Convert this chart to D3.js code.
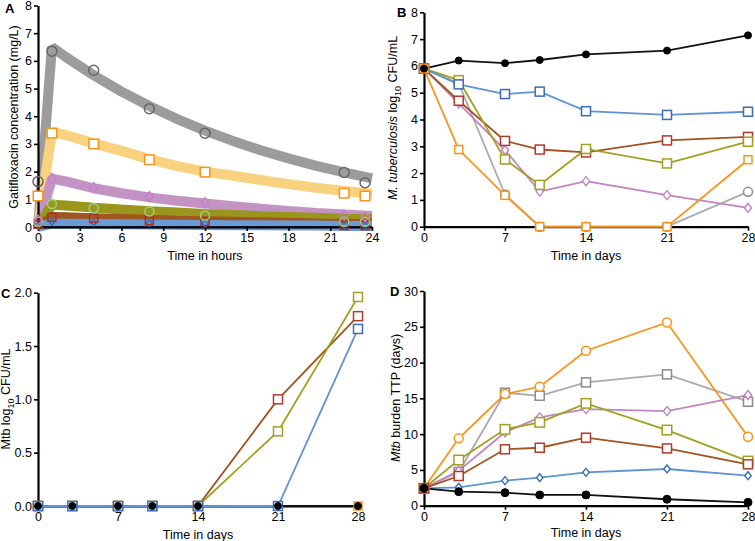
<!DOCTYPE html>
<html><head><meta charset="utf-8">
<script src="https://cdn.jsdelivr.net/npm/d3@7"></script>
<style>
body{margin:0;background:#fff;}
text{font-family:"Liberation Sans",Arial,Helvetica,sans-serif;}
</style>
</head><body>
<svg id="chart" width="755" height="541"></svg>
<script>
// ---------- DATA ----------
// Panel A: model bands (hours) and observed concentrations
const hourTicks = [0,3,6,9,12,15,18,21,24];
const bandHours = [0,1,2,4,6,8,10,12,14,16,18,20,22,24];
const bandGray   = [0,6.5,6.14,5.48,4.89,4.37,3.9,3.48,3.11,2.77,2.48,2.21,1.97,1.76];
const bandOrange = [0,3.45,3.32,3.02,2.75,2.45,2.2,2.0,1.85,1.7,1.55,1.42,1.3,1.2];
const bandPurple = [0,1.75,1.65,1.4,1.22,1.07,0.95,0.85,0.75,0.66,0.58,0.51,0.45,0.4];
const bandOlive  = [0,0.8,0.78,0.7,0.63,0.57,0.52,0.47,0.43,0.39,0.36,0.33,0.3,0.28];
const bandBrown  = [0,0.36,0.35,0.32,0.29,0.26,0.23,0.21,0.19,0.17,0.15,0.13,0.12,0.11];
const bandBlue   = [0,0.12,0.12,0.11,0.1,0.09,0.08,0.07,0.06,0.06,0.05,0.05,0.04,0.04];
const obsHours   = [0,1,4,8,12,22,23.5];
const obsGray    = [1.64,6.35,5.66,4.27,3.39,1.97,1.6];
const obsOrange  = [1.12,3.39,3.0,2.43,1.98,1.22,1.12];
const obsPurple  = [0.25,1.76,1.42,1.1,0.88,0.43,0.37];
const obsGreen   = [0.19,0.83,0.68,0.56,0.41,0.19,0.19];
const obsRed     = [0.1,0.35,0.31,0.23,0.19,0.05,0.05];
const obsBlue    = [0.05,0.19,0.16,0.14,0.12,0.05,0.05];

// Panels B, C, D: days
const days = [0,3,7,10,14,21,28];
const dayTicks = [0,7,14,21,28];
// B: M. tuberculosis log10 CFU/mL
const bBlack  = [5.9,6.2,6.1,6.22,6.43,6.57,7.14];
const bBlue   = [5.9,5.31,4.95,5.04,4.31,4.17,4.29];
const bBrown  = [5.9,4.7,3.2,2.88,2.77,3.22,3.35];
const bOlive  = [5.9,5.47,2.51,1.56,2.9,2.36,3.17];
const bPurple = [5.9,4.6,2.86,1.31,1.7,1.18,0.7];
const bGray   = [5.9,5.35,1.2,0,0,0,1.3];
const bOrange = [5.9,2.88,1.17,0,0,0,2.5];
// C: Mtb log10 CFU/mL (resistant)
const cBlack  = [0,0,0,0,0,0,0];
const cBlue   = [0,0,0,0,0,0,1.66];
const cBrown  = [0,0,0,0,0,1.0,1.78];
const cOlive  = [0,0,0,0,0,0.7,1.96];
const cOrange = [0,0,0,0,0,0,0];
// D: Mtb burden TTP (days)
const dBlack  = [2.43,1.96,1.82,1.5,1.5,0.9,0.47];
const dBlue   = [2.43,2.57,3.5,3.91,4.66,5.13,4.19];
const dBrown  = [2.43,4.15,7.88,8.1,9.5,8.0,5.78];
const dOlive  = [2.43,6.38,10.67,11.65,14.3,10.57,6.24];
const dPurple = [2.43,4.89,10.25,12.35,13.5,13.22,15.46];
const dGray   = [2.43,4.7,15.78,15.36,17.23,18.35,14.53];
const dOrange = [2.43,9.41,15.6,16.62,21.65,25.6,9.64];

// ---------- COLOURS ----------
const C = {
  black:"#111111",
  blueLine:"#5f93d3", blueMark:"#3b6cb7",
  brownLine:"#a0531f", brownMark:"#b23a2c",
  olive:"#a2a020",
  purple:"#c283c3",
  grayLine:"#ababab", grayMark:"#8a8a8a",
  orange:"#f7941d"
};

const svg = d3.select("#chart");

function drawAxes(g, x, y, xt, yt, yfmt){
  const xa = g.append("g").attr("transform",`translate(0,${y.range()[0]})`)
    .call(d3.axisBottom(x).tickValues(xt).tickSize(4).tickSizeOuter(0).tickPadding(2));
  const ya = g.append("g").attr("transform",`translate(${x.range()[0]},0)`)
    .call(d3.axisLeft(y).tickValues(yt).tickSize(4).tickSizeOuter(0).tickPadding(2).tickFormat(yfmt||d3.format("d")));
  [xa,ya].forEach(a=>{
    a.select(".domain").attr("stroke","#000").attr("stroke-width",2.2);
    a.selectAll(".tick line").attr("stroke","#000").attr("stroke-width",1.6);
    a.selectAll(".tick text").attr("font-size",12.5).attr("fill","#000")
      .style("font-family","'Liberation Sans',Arial,sans-serif");
  });
  return [xa,ya];
}

function marker(sel, type, cx, cy, stroke, size, fill){
  if(type==="circle"){
    sel.append("circle").attr("cx",cx).attr("cy",cy).attr("r",size/2)
      .attr("fill",fill||"none").attr("stroke",stroke).attr("stroke-width",1.5);
  } else if(type==="dot"){
    sel.append("circle").attr("cx",cx).attr("cy",cy).attr("r",size/2)
      .attr("fill",stroke).attr("stroke",stroke).attr("stroke-width",1);
  } else if(type==="square"){
    sel.append("rect").attr("x",cx-size/2).attr("y",cy-size/2).attr("width",size).attr("height",size)
      .attr("fill",fill||"#fff").attr("stroke",stroke).attr("stroke-width",1.5);
  } else if(type==="diamond"){
    const s=size/2;
    sel.append("path").attr("d",`M${cx},${cy-s}L${cx+s*0.8},${cy}L${cx},${cy+s}L${cx-s*0.8},${cy}Z`)
      .attr("fill",fill||"#fff").attr("stroke",stroke).attr("stroke-width",1.4);
  }
}

function series(g, x, y, xs, ys, lineColor){
  const line = d3.line().x((d,i)=>x(xs[i])).y(d=>y(d));
  g.append("path").datum(ys).attr("d",line).attr("fill","none")
    .attr("stroke",lineColor).attr("stroke-width",1.8);
}
function marks(g, x, y, xs, ys, markType, markColor, size, fill){
  ys.forEach((v,i)=>marker(g, markType, x(xs[i]), y(v), markColor, size, fill));
}

// ---------- PANEL A ----------
{
  const g = svg.append("g");
  const x = d3.scaleLinear().domain([0,24]).range([38,372]);
  const y = d3.scaleLinear().domain([0,8]).range([227,5.5]);
  const band = d3.line().x((d,i)=>x(bandHours[i])).y(d=>y(d)).curve(d3.curveLinear);
  const bands = [[bandGray,"#9c9c9c"],[bandOrange,"#f8d27e"],[bandPurple,"#c393c3"],
                 [bandOlive,"#9a961d"],[bandBrown,"#a0561e"],[bandBlue,"#6a9bd7"]];
  bands.forEach(([d,c])=>g.append("path").datum(d).attr("d",band).attr("fill","none")
     .attr("stroke",c).attr("stroke-width",10).attr("stroke-linejoin","bevel"));
  g.append("path").datum(bandHours.map(()=>0)).attr("d",band).attr("fill","none").attr("stroke","#000").attr("stroke-width",1.5);
  drawAxes(g,x,y,hourTicks,[0,1,2,3,4,5,6,7,8]);
  marks(g,x,y,obsHours,obsBlue,"diamond","#3a66b4",7,"none");
  marks(g,x,y,obsHours,obsRed,"square","#a8302a",8,"none");
  marks(g,x,y,obsHours,obsGreen,"circle","#93d47e",9,"none");
  marks(g,x,y,obsHours,obsPurple,"diamond","#c77fc7",10,"none");
  marks(g,x,y,obsHours,obsOrange,"square","#f7941d",9.5,"#fff");
  marks(g,x,y,obsHours,obsGray,"circle","#666",10,"none");
  g.append("text").attr("x",205).attr("y",260).attr("text-anchor","middle").attr("font-size",12.5).text("Time in hours");
  g.append("text").attr("transform","translate(18,117) rotate(-90)").attr("text-anchor","middle").attr("font-size",12.5)
    .text("Gatifloxacin concentration (mg/L)");
  g.append("text").attr("x",5).attr("y",13).attr("font-size",13).attr("font-weight","bold").text("A");
}

// ---------- PANEL B ----------
{
  const g = svg.append("g");
  const x = d3.scaleLinear().domain([0,28]).range([424,748]);
  const y = d3.scaleLinear().domain([0,8]).range([226.7,12.3]);
  drawAxes(g,x,y,dayTicks,[0,1,2,3,4,5,6,7,8]);
  series(g,x,y,days,bGray,C.grayLine);
  series(g,x,y,days,bPurple,C.purple);
  series(g,x,y,days,bBrown,C.brownLine);
  series(g,x,y,days,bOlive,C.olive);
  series(g,x,y,days,bBlue,C.blueLine);
  series(g,x,y,days,bOrange,C.orange);
  series(g,x,y,days,bBlack,C.black);
  marks(g,x,y,days,bGray,"circle",C.grayMark,9,"#fff");
  marks(g,x,y,days,bPurple,"diamond",C.purple,9);
  marks(g,x,y,days,bBrown,"square",C.brownMark,9);
  marks(g,x,y,days,bOlive,"square",C.olive,9);
  marks(g,x,y,days,bBlue,"square",C.blueMark,9);
  marks(g,x,y,days,bOrange,"square",C.orange,8);
  marks(g,x,y,days,bBlack,"dot","#000",7);
  g.append("text").attr("x",586).attr("y",260).attr("text-anchor","middle").attr("font-size",12.5).text("Time in days");
  const t = g.append("text").attr("transform","translate(397,118) rotate(-90)").attr("text-anchor","middle").attr("font-size",12.5);
  t.append("tspan").attr("font-style","italic").text("M. tuberculosis");
  t.append("tspan").text(" log");
  t.append("tspan").attr("font-size",9).attr("dy",4).text("10");
  t.append("tspan").attr("dy",-4).text(" CFU/mL");
  g.append("text").attr("x",397).attr("y",17).attr("font-size",13).attr("font-weight","bold").text("B");
}

// ---------- PANEL C ----------
{
  const g = svg.append("g");
  const x = d3.scaleLinear().domain([0,28]).range([38,358]);
  const y = d3.scaleLinear().domain([0,2]).range([506,292.7]);
  drawAxes(g,x,y,dayTicks,[0,0.5,1,1.5,2],d3.format(".1f"));
  series(g,x,y,days,cBrown,C.brownLine);
  series(g,x,y,days,cOlive,C.olive);
  series(g,x,y,days,cOrange,C.orange);
  series(g,x,y,days,cBlack,C.black);
  series(g,x,y,days,cBlue,C.blueLine);
  marks(g,x,y,days,cOrange,"square",C.orange,8);
  marks(g,x,y,days,cBrown,"square",C.brownMark,9);
  marks(g,x,y,days,cOlive,"square",C.olive,9);
  marks(g,x,y,days,cBlue,"square",C.blueMark,9);
  marks(g,x,y,days,cBlack,"dot","#000",7);
  g.append("text").attr("x",198).attr("y",539).attr("text-anchor","middle").attr("font-size",12.5).text("Time in days");
  const t = g.append("text").attr("transform","translate(10,399) rotate(-90)").attr("text-anchor","middle").attr("font-size",12.5);
  t.append("tspan").text("Mtb log");
  t.append("tspan").attr("font-size",9).attr("dy",4).text("10");
  t.append("tspan").attr("dy",-4).text(" CFU/mL");
  g.append("text").attr("x",1).attr("y",298).attr("font-size",13).attr("font-weight","bold").text("C");
}

// ---------- PANEL D ----------
{
  const g = svg.append("g");
  const x = d3.scaleLinear().domain([0,28]).range([424,748]);
  const y = d3.scaleLinear().domain([0,30]).range([505.7,291]);
  drawAxes(g,x,y,dayTicks,[0,5,10,15,20,25,30]);
  series(g,x,y,days,dGray,C.grayLine);
  series(g,x,y,days,dOrange,C.orange);
  series(g,x,y,days,dPurple,C.purple);
  series(g,x,y,days,dOlive,C.olive);
  series(g,x,y,days,dBrown,C.brownLine);
  series(g,x,y,days,dBlue,C.blueLine);
  series(g,x,y,days,dBlack,C.black);
  marks(g,x,y,days,dGray,"square",C.grayMark,9);
  marks(g,x,y,days,dOrange,"circle",C.orange,9,"#fff");
  marks(g,x,y,days,dPurple,"diamond",C.purple,9);
  marks(g,x,y,days,dOlive,"square",C.olive,9.5);
  marks(g,x,y,days,dBrown,"square",C.brownMark,9);
  marks(g,x,y,days,dBlue,"diamond",C.blueMark,8);
  marks(g,x,y,days,dBlack,"dot","#000",8);
  g.append("text").attr("x",586).attr("y",537).attr("text-anchor","middle").attr("font-size",12.5).text("Time in days");
  const t = g.append("text").attr("transform","translate(400,398) rotate(-90)").attr("text-anchor","middle").attr("font-size",12.5);
  t.append("tspan").attr("font-style","italic").text("Mtb");
  t.append("tspan").text(" burden TTP (days)");
  g.append("text").attr("x",390).attr("y",296).attr("font-size",13).attr("font-weight","bold").text("D");
}
</script>
</body></html>
